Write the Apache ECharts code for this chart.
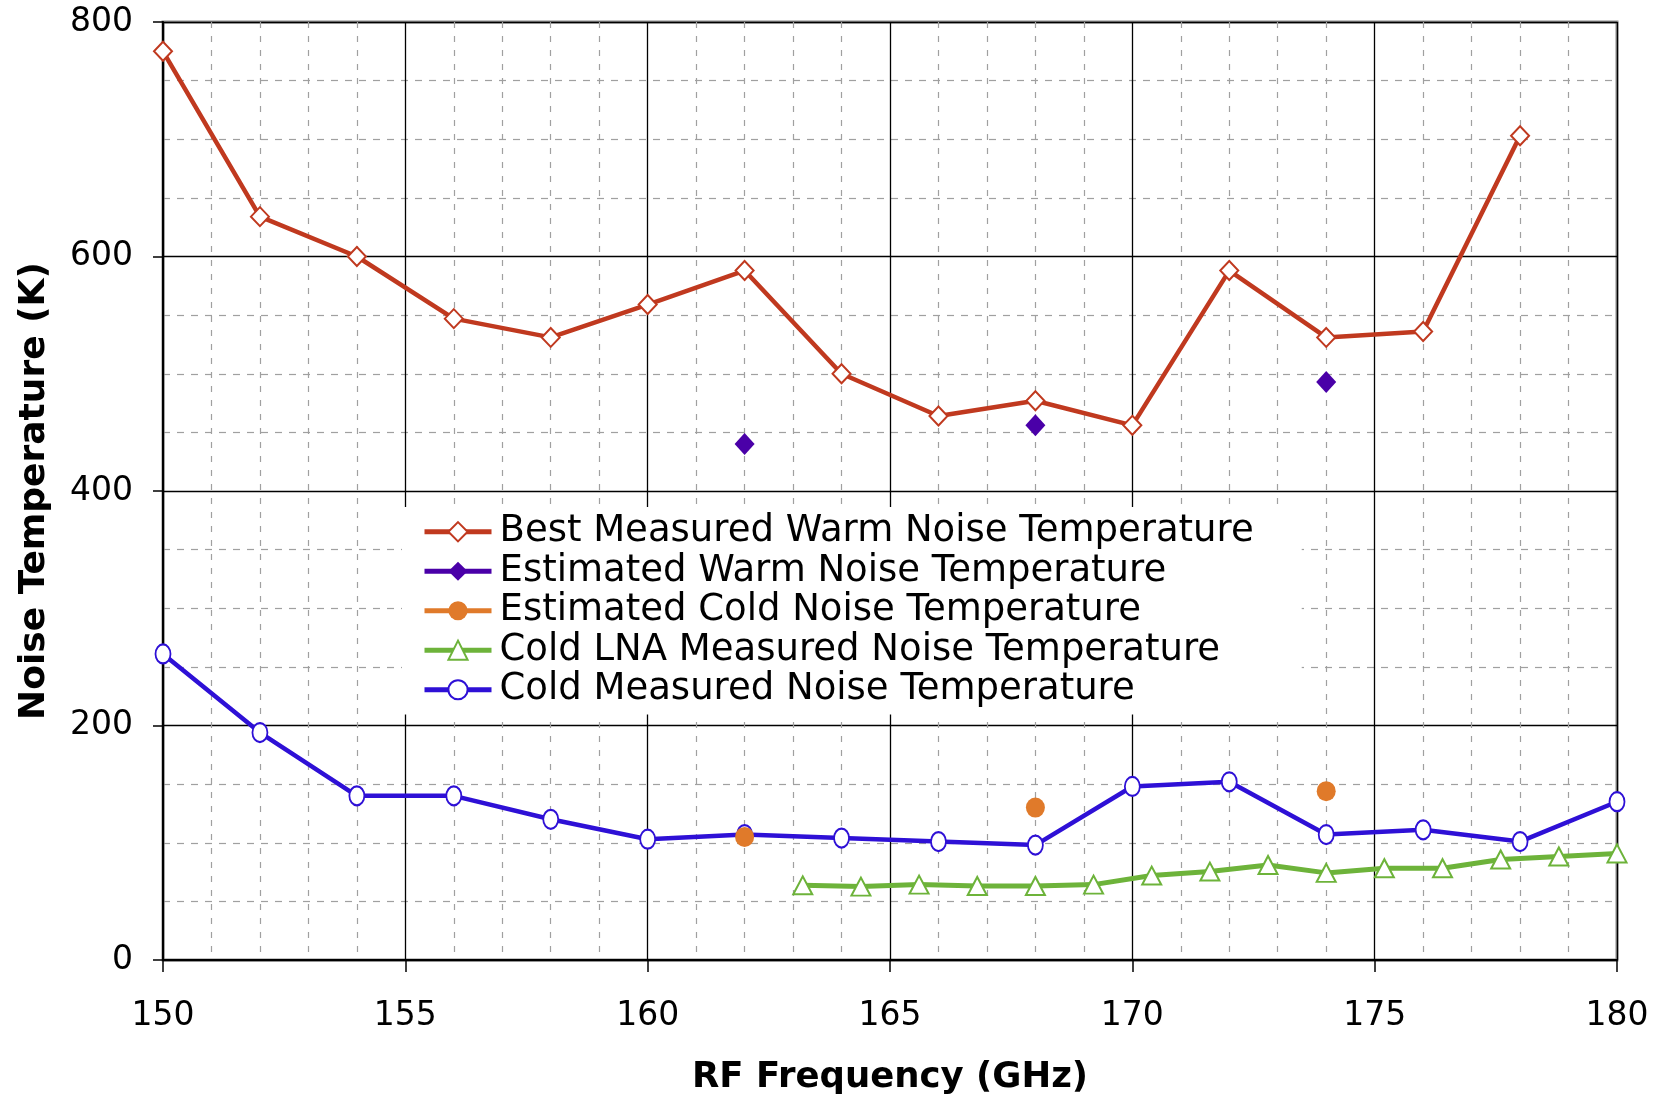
<!DOCTYPE html>
<html><head><meta charset="utf-8">
<script src="https://cdn.jsdelivr.net/npm/echarts@6/dist/echarts.min.js"></script>
<style>html,body{margin:0;padding:0;background:#fff}#c{width:1667px;height:1097px}</style>
</head><body><div id="c"></div>
<script>
const freqWarm = [150,152,154,156,158,160,162,164,166,168,170,172,174,176,178];
const bestWarm = [775,634,600,547,531,559,588,500,464,477,456,588,531,536,703];
const freqCold = [150,152,154,156,158,160,162,164,166,168,170,172,174,176,178,180];
const coldMeasured = [261,194,140,140,120,103,107,104,101,98,148,152,107,111,101,135];
const estFreqs = [162,168,174];
const estWarm = [440,456,493];
const estCold = [105,130,144];
const lnaFreqs = [163.2,164.4,165.6,166.8,168.0,169.2,170.4,171.6,172.8,174.0,175.2,176.4,177.6,178.8,180.0];
const lnaValues = [63.7,62.6,64.3,63.1,63.1,64.3,72,75.4,81,74.3,78.3,78.3,85.7,88.3,90.9];
const seriesNames = ['Best Measured Warm Noise Temperature','Estimated Warm Noise Temperature','Estimated Cold Noise Temperature','Cold LNA Measured Noise Temperature','Cold Measured Noise Temperature'];
const xAxisName = 'RF Frequency (GHz)';
const yAxisName = 'Noise Temperature (K)';

const C = {red:'#C0391F', purple:'#4A00A8', orange:'#E07A2A', green:'#6DB33A', blue:'#2E10D6'};
const zip = (a,b)=>a.map((v,i)=>[v,b[i]]);
const FONT = 'DejaVu Sans';

const chart = echarts.init(document.getElementById('c'), null, {renderer:'canvas'});
chart.setOption({
  animation:false,
  backgroundColor:'#fff',
  textStyle:{fontFamily:FONT},
  grid:{left:163, right:50, top:22, bottom:137, outerBoundsMode:'none', containLabel:false,
    show:true, borderColor:'#8a8a8a', borderWidth:3, backgroundColor:'#fff'},
  xAxis:{
    type:'value', min:150, max:180, interval:5,
    name:xAxisName, nameLocation:'middle', nameGap:100,
    nameTextStyle:{fontFamily:FONT, fontSize:35.5, fontWeight:'bold', color:'#000'},
    axisLine:{show:true, lineStyle:{color:'#000', width:2}},
    axisTick:{show:true, length:12, lineStyle:{color:'#000', width:1.5}},
    axisLabel:{fontFamily:FONT, fontSize:33, color:'#000', margin:40},
    splitLine:{show:true, lineStyle:{color:'#000', width:1.3}},
    minorTick:{show:false, splitNumber:5},
    minorSplitLine:{show:true, lineStyle:{color:'#a0a0a0', width:1.2, type:[6,8]}}
  },
  yAxis:{
    type:'value', min:0, max:800, interval:200,
    name:yAxisName, nameLocation:'middle', nameGap:110,
    nameTextStyle:{fontFamily:FONT, fontSize:36, fontWeight:'bold', color:'#000'},
    axisLine:{show:true, onZero:false, lineStyle:{color:'#000', width:2}},
    axisTick:{show:true, length:10, lineStyle:{color:'#000', width:1.5}},
    axisLabel:{fontFamily:FONT, fontSize:33, color:'#000', margin:30},
    splitLine:{show:true, lineStyle:{color:'#000', width:1.3}},
    minorTick:{show:false, splitNumber:4},
    minorSplitLine:{show:true, lineStyle:{color:'#a0a0a0', width:1.2, type:[7,7]}}
  },
  legend:{
    orient:'vertical', left:402, top:507,
    itemWidth:67, itemHeight:24, itemGap:0,
    padding:[5,48,5,20],
    backgroundColor:'#fff',
    lineStyle:{width:5},
    textStyle:{fontFamily:FONT, fontSize:37, color:'#000', lineHeight:39.5, padding:[0,0,0,3]},
    data:[
      {name:seriesNames[0]},
      {name:seriesNames[1], lineStyle:{width:5, color:C.purple, opacity:1}},
      {name:seriesNames[2], lineStyle:{width:5, color:C.orange, opacity:1}},
      {name:seriesNames[3]},
      {name:seriesNames[4]}
    ]
  },
  series:[
    {name:seriesNames[0], type:'line', data:zip(freqWarm,bestWarm),
      symbol:'emptyDiamond', symbolSize:[18,19], showAllSymbol:true,
      lineStyle:{color:C.red, width:4.5}, itemStyle:{color:C.red, borderWidth:2}},
    {name:seriesNames[1], type:'line', data:zip(estFreqs,estWarm), z:5,
      symbol:'diamond', symbolSize:[20,22],
      lineStyle:{color:C.purple, width:0, opacity:0}, itemStyle:{color:C.purple}},
    {name:seriesNames[2], type:'line', data:zip(estFreqs,estCold), z:5,
      symbol:'circle', symbolSize:[19,20],
      lineStyle:{color:C.orange, width:0, opacity:0}, itemStyle:{color:C.orange}},
    {name:seriesNames[3], type:'line', data:zip(lnaFreqs,lnaValues),
      symbol:'emptyTriangle', symbolSize:[19,18],
      lineStyle:{color:C.green, width:5}, itemStyle:{color:C.green, borderWidth:2}},
    {name:seriesNames[4], type:'line', data:zip(freqCold,coldMeasured),
      symbol:'emptyCircle', symbolSize:[15,19],
      lineStyle:{color:C.blue, width:4.5}, itemStyle:{color:C.blue, borderWidth:2}}
  ]
});
</script></body></html>
